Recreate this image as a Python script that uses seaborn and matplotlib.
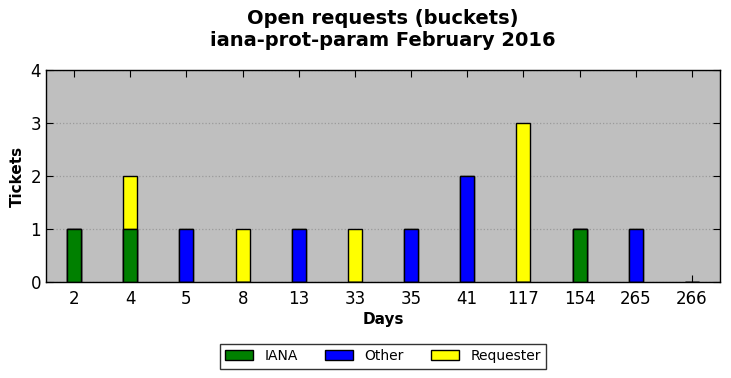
#!/usr/bin/env python3
# Stacked bars of open requests per age bucket (days), by responsible party
import pandas as pd
import seaborn as sns
import matplotlib.pyplot as plt
from matplotlib.patches import Patch

DAYS      = ["2", "4", "5", "8", "13", "33", "35", "41", "117", "154", "265", "266"]
IANA      = [1, 1, 0, 0, 0, 0, 0, 0, 0, 1, 0, 0]
OTHER     = [0, 0, 1, 0, 1, 0, 1, 2, 0, 0, 1, 0]
REQUESTER = [0, 1, 0, 1, 0, 1, 0, 0, 3, 0, 0, 0]

COLORS = {"IANA": "#008000", "Other": "#0000ff", "Requester": "#ffff00"}


def main():
    df = pd.DataFrame({"days": DAYS, "IANA": IANA, "Other": OTHER, "Requester": REQUESTER})
    # cumulative heights, drawn top layer first so lower layers overlay
    df["top_requester"] = df["IANA"] + df["Other"] + df["Requester"]
    df["top_other"] = df["IANA"] + df["Other"]
    df["top_iana"] = df["IANA"]

    sns.set_style("ticks")
    plt.rcParams["font.family"] = ["DejaVu Sans"]
    plt.rcParams["text.color"] = "black"
    plt.rcParams["axes.labelcolor"] = "black"
    plt.rcParams["xtick.color"] = "black"
    plt.rcParams["ytick.color"] = "black"

    fig, ax = plt.subplots(figsize=(7.31, 3.78), dpi=100)
    fig.subplots_adjust(left=0.063, right=0.985, top=0.815, bottom=0.254)
    ax.set_facecolor("#bfbfbf")

    for col, name in [("top_requester", "Requester"), ("top_other", "Other"), ("top_iana", "IANA")]:
        sns.barplot(data=df, x="days", y=col, order=DAYS, color=COLORS[name],
                    saturation=1, width=0.25, edgecolor="black", linewidth=1,
                    errorbar=None, ax=ax)

    ax.set_xlim(-0.5, len(DAYS) - 0.5)
    ax.set_ylim(0, 4)
    ax.set_yticks([0, 1, 2, 3, 4])
    ax.yaxis.grid(True, linestyle=":", color="#9a9a9a", linewidth=0.9)
    ax.set_axisbelow(True)
    ax.tick_params(direction="in", top=True, right=True, length=5, labelsize=12, color="black")
    ax.tick_params(axis="x", pad=6)
    for side in ("top", "right", "bottom", "left"):
        ax.spines[side].set_color("black")
        ax.spines[side].set_linewidth(1)

    ax.set_xlabel("Days", fontsize=11, fontweight="bold", labelpad=3)
    ax.set_ylabel("Tickets", fontsize=11, fontweight="bold")
    ax.set_title("Open requests (buckets)\niana-prot-param February 2016",
                 fontsize=14, fontweight="bold", pad=17)

    handles = [Patch(facecolor=COLORS[n], edgecolor="black", label=n) for n in ("IANA", "Other", "Requester")]
    leg = ax.legend(handles=handles, loc="upper center", bbox_to_anchor=(0.5, -0.258), ncol=3,
                    fontsize=10, frameon=True, fancybox=False, handlelength=2.0,
                    columnspacing=2.0, borderpad=0.4)
    leg.get_frame().set_edgecolor("black")
    leg.get_frame().set_linewidth(1)

    fig.savefig("out.png", dpi=100)


if __name__ == "__main__":
    main()
